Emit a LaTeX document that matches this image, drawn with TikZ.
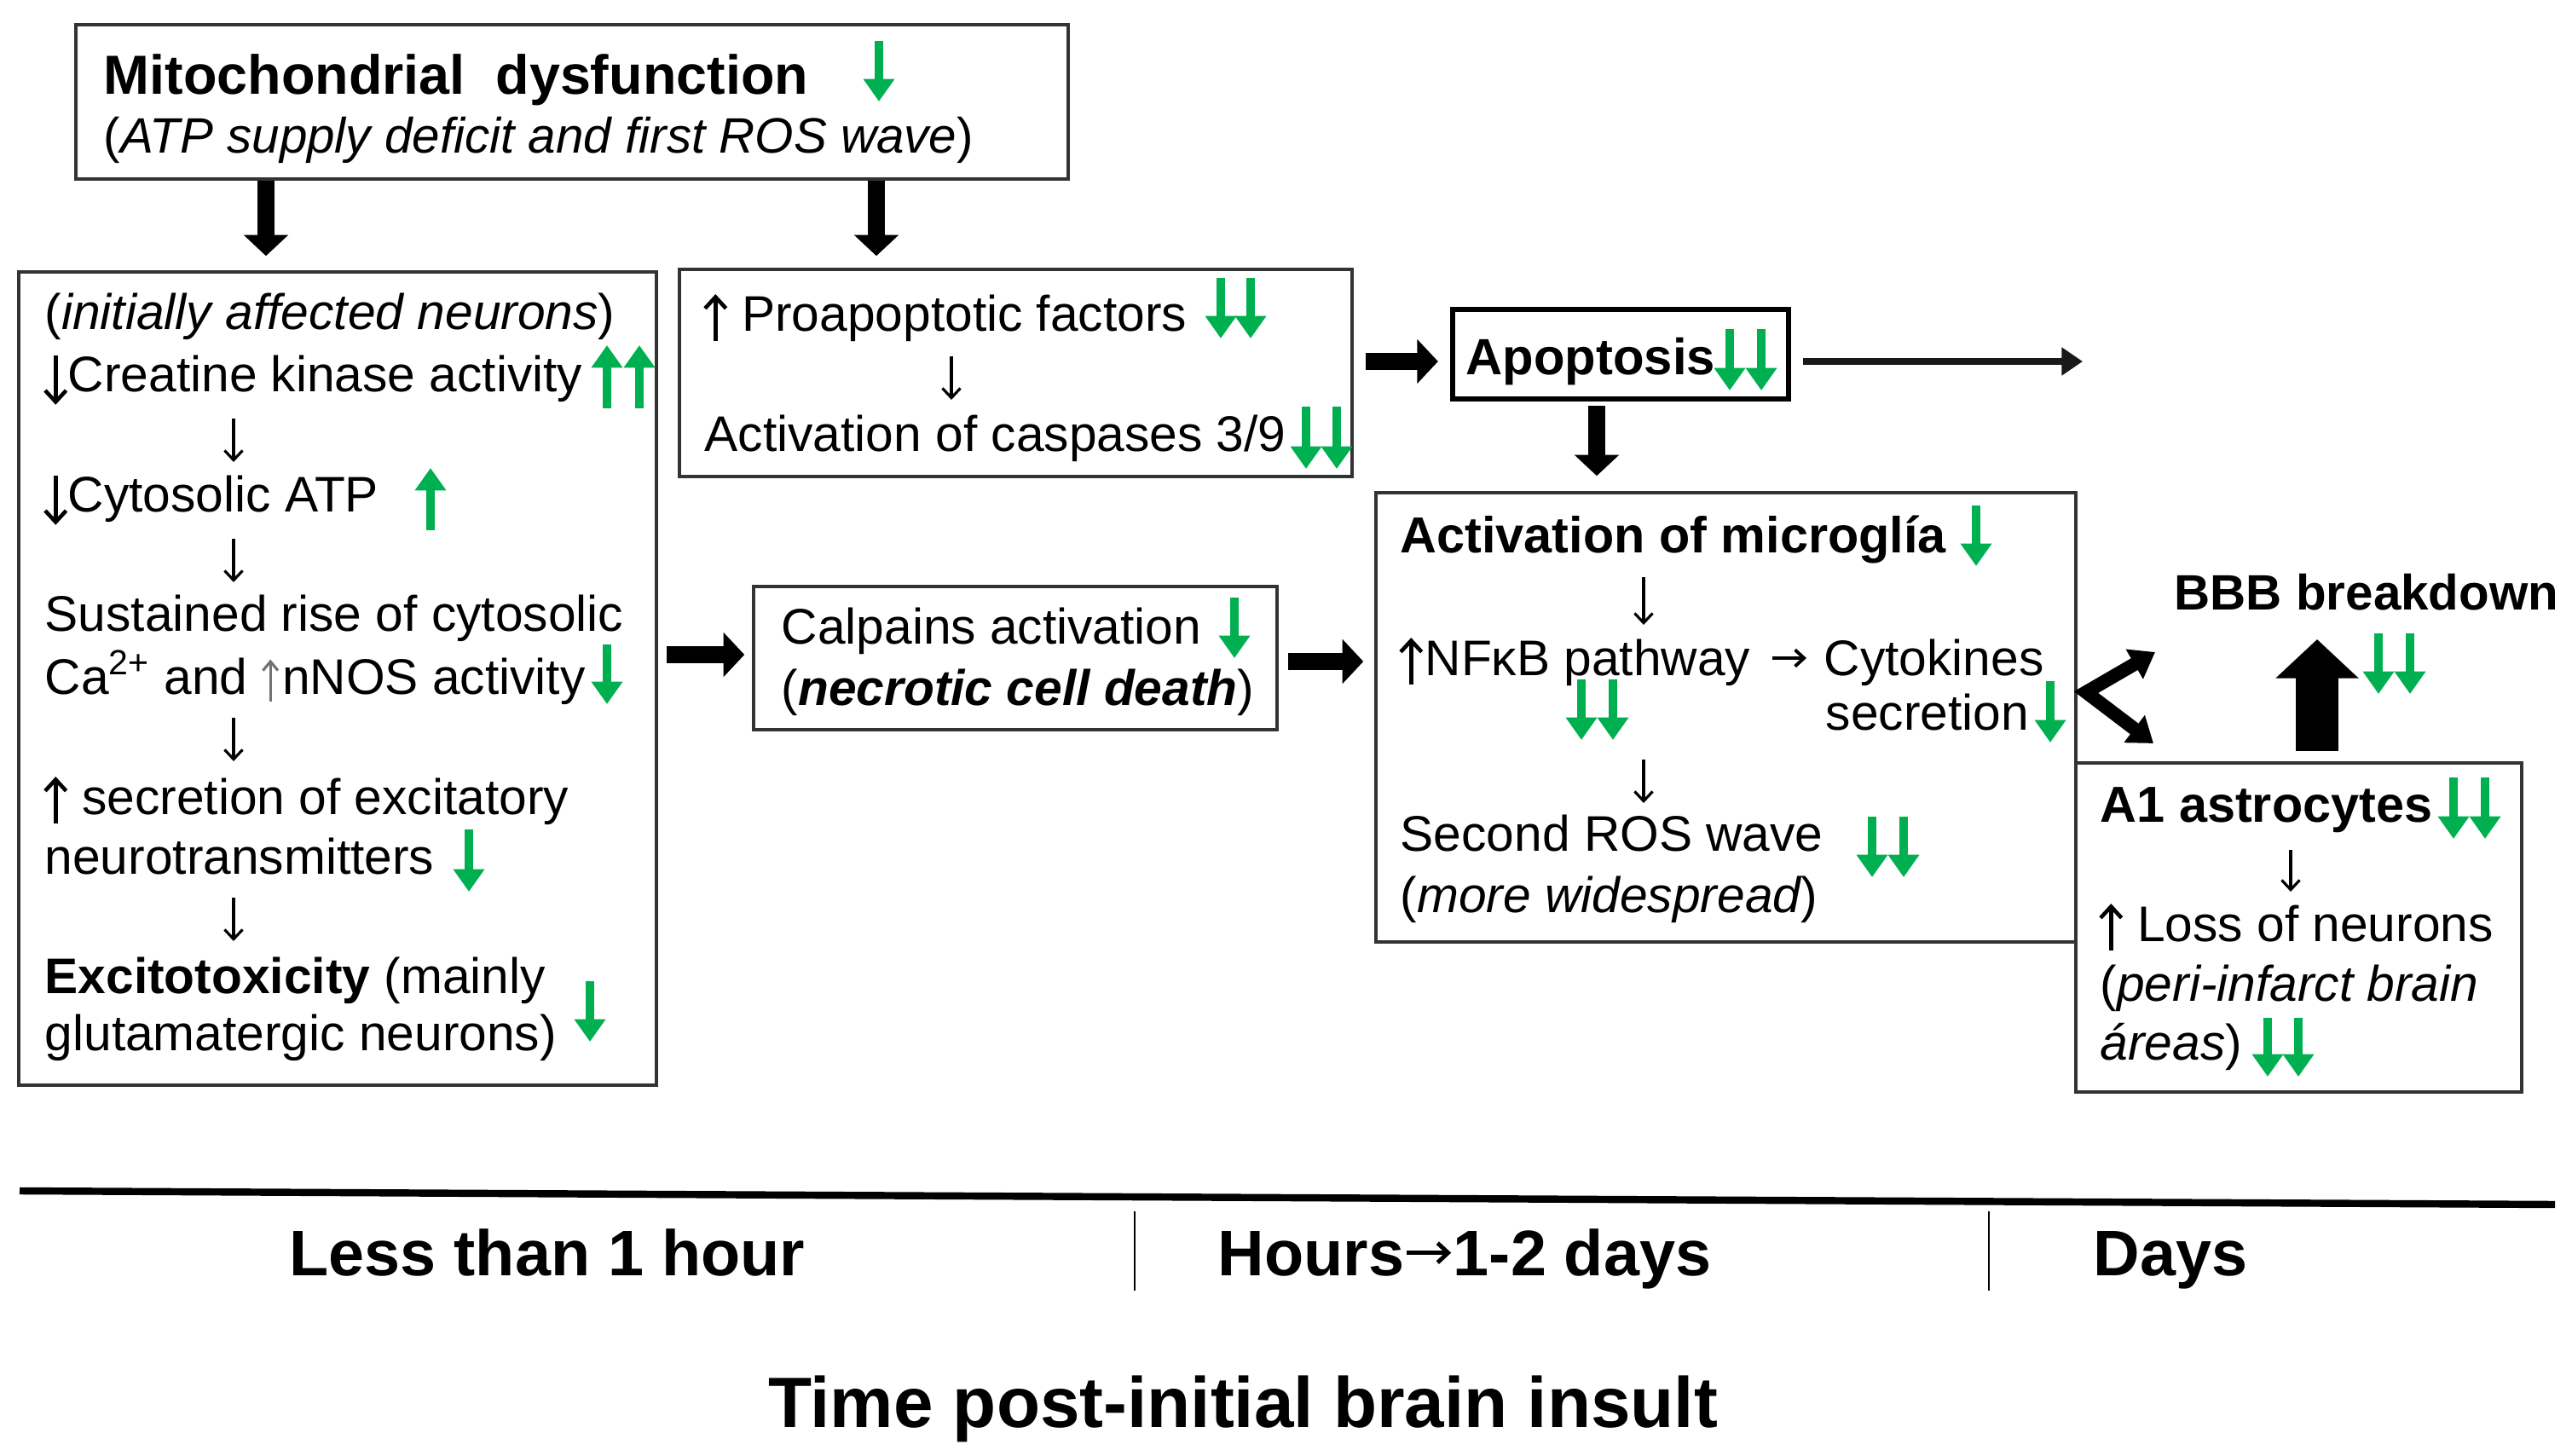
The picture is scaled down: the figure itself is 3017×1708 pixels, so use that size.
\documentclass[tikz,border=0pt]{standalone}
\usepackage{fontspec}
\setmainfont{Liberation Sans}
\usetikzlibrary{arrows.meta,fit,calc}
\definecolor{grn}{RGB}{0,176,80}
\newcommand\setfs[1]{\fontsize{#1}{#1}\selectfont}
\newcommand\dnA{\tikz[baseline=0pt]\draw[black, line width=1.3pt,-{Straight Barb[length=3.8pt,width=7pt,line width=1.3pt]}] (0pt,12.3pt) -- (0pt,-4.2pt);}
\newcommand\upA{\tikz[baseline=0pt]\draw[black, line width=1.3pt,-{Straight Barb[length=3.8pt,width=7pt,line width=1.3pt]}] (0pt,-3pt) -- (0pt,12.5pt);}
\newcommand\upG{\tikz[baseline=0pt]\draw[black!55, line width=0.9pt,-{Straight Barb[length=3pt,width=5pt,line width=0.9pt]}] (0pt,-2.5pt) -- (0pt,11.5pt);}
\newcommand\rtA{\tikz[baseline=0pt]\draw[black, line width=1.4pt,-{Straight Barb[length=3.5pt,width=6.5pt,line width=1.4pt]}] (0pt,7.5pt) -- (15pt,7.5pt);}
\begin{document}
\begin{tikzpicture}[x=0.1mm, y=-0.1mm,
  box/.style={draw=black!80, line width=1pt, inner sep=0pt},
  txt/.style={anchor=base west, inner sep=0pt, font=\setfs{16.7}},
  btxt/.style={anchor=base west, inner sep=0pt, font=\bfseries\setfs{16.9}},
  smallv/.style={draw=black, line width=0.9pt, -{Straight Barb[length=3.2pt,width=6pt,line width=0.9pt]}},
  garrow/.style={draw=grn, line width=2.8pt, -{Triangle[width=10pt,length=7.5pt]}},
  blk/.style={draw=black, line width=5.7pt, -{Triangle[width=14.5pt,length=7pt]}},
  thinarr/.style={draw=black!90, line width=2.2pt, -{Triangle[width=9pt,length=7pt]}},
  chev/.style={draw=black, line width=4.5pt, line join=miter, {Triangle[width=11pt,length=8pt]}-{Triangle[width=11pt,length=8pt]}},
  bigup/.style={draw=black, line width=14pt, -{Triangle[width=27pt,length=13pt]}},
  tl/.style={anchor=base, inner sep=0pt, font=\bfseries\setfs{21.5}}
]
\fill[white] (0,0) rectangle (3017,1708);
\useasboundingbox (0,0) rectangle (3017,1708);

% ---------- boxes ----------
\node[box, fit={(89,29) (1253,210)}] (title) {};
\node[box, fit={(22,319) (770,1273)}] (left) {};
\node[box, fit={(797,316) (1586,559)}] (pro) {};
\node[box, draw=black, line width=1.8pt, fit={(1704,363) (2098,468)}] (apo) {};
\node[box, fit={(884,688) (1498,856)}] (cal) {};
\node[box, fit={(1614,578) (2435,1105)}] (mic) {};
\node[box, fit={(2435,895) (2958,1281)}] (a1) {};

% ---------- title box ----------
\node[anchor=base west, inner sep=0pt, font=\bfseries\setfs{18.4}] (t1) at (121,111) {Mitochondrial\ \ dysfunction};
\node[anchor=base west, inner sep=0pt, font=\setfs{16.6}] (t2) at (121,180) {({\itshape ATP supply deficit and first ROS wave})};
\draw[garrow] (1031,48) -- (1031,119);

% ---------- left box ----------
\node[txt] (l1) at (52,387) {({\itshape initially affected neurons})};
\node[txt] (l2) at (50,460) {\dnA Creatine kinase activity};
\node[txt] (l3) at (50,601) {\dnA Cytosolic ATP};
\node[txt] (l4) at (52,741) {Sustained rise of cytosolic};
\node[txt] (l5) at (52,814) {Ca\textsuperscript{2+} and \upG\kern1pt nNOS activity};
\node[txt] (l6) at (50,955) {\upA\ secretion of excitatory};
\node[txt] (l7) at (52,1025) {neurotransmitters};
\node[txt] (l8) at (52,1165) {\textbf{Excitotoxicity} (mainly};
\node[txt] (l9) at (52,1232) {glutamatergic neurons)};
\coordinate (lx) at (274,0);
\draw[smallv] (274,491) -- (274,542);
\draw[smallv] (274,632) -- (274,683);
\draw[smallv] (274,842) -- (274,893);
\draw[smallv] (274,1053) -- (274,1104);
\draw[garrow] (712,479) -- (712,405);
\draw[garrow] (750,479) -- (750,405);
\draw[garrow] (505,622) -- (505,549);
\draw[garrow] (712,756) -- (712,826);
\draw[garrow] (550,973) -- (550,1046);
\draw[garrow] (692,1151) -- (692,1222);

% ---------- proapoptotic box ----------
\node[txt] (p1) at (824,389) {\upA\ Proapoptotic factors};
\draw[smallv] (1116,418) -- (1116,469);
\node[txt] (p2) at (826,530) {Activation of caspases 3/9};
\draw[garrow] (1432,326) -- (1432,397);
\draw[garrow] (1467,326) -- (1467,397);
\draw[garrow] (1532,477) -- (1532,550);
\draw[garrow] (1568,477) -- (1568,550);

% ---------- calpains box ----------
\node[txt] (c1) at (916,755) {Calpains activation};
\node[txt] (c2) at (916,827) {(\textbf{\textit{necrotic cell death}})};
\draw[garrow] (1448,701) -- (1448,772);

% ---------- apoptosis ----------
\node[anchor=base west, inner sep=0pt, font=\bfseries\setfs{17}] (ap) at (1719,440) {Apoptosis};
\draw[garrow] (2029,386) -- (2029,458);
\draw[garrow] (2066,386) -- (2066,458);

% ---------- microglia box ----------
\node[btxt] (m1) at (1642,649) {Activation of microglía};
\draw[smallv] (1928,677) -- (1928,733);
\node[txt] (m2) at (1640,792) {\upA\kern0.5pt NFκB pathway};
\node[txt] (m3) at (2139,792) {Cytokines};
\draw[draw=black, line width=1.1pt, -{Straight Barb[length=3pt,width=5.5pt,line width=1.1pt]}] ($(m2.base east)+(25,-20)$) -- ($(m3.base west)+(-20,-20)$);
\node[txt] (m4) at (2141,856) {secretion};
\draw[smallv] (1928,891) -- (1928,942);
\node[txt] (m5) at (1642,998) {Second ROS wave};
\node[txt] (m6) at (1642,1070) {({\itshape more widespread})};
\draw[garrow] (2318,593) -- (2318,664);
\draw[garrow] (1855,797) -- (1855,868);
\draw[garrow] (1892,797) -- (1892,868);
\draw[garrow] (2405,799) -- (2405,871);
\draw[garrow] (2196,958) -- (2196,1029);
\draw[garrow] (2233,958) -- (2233,1029);

% ---------- A1 astrocytes box ----------
\node[btxt] (a1t) at (2463,964) {A1 astrocytes};
\draw[smallv] (2687,997) -- (2687,1046);
\node[txt] (a2) at (2461,1104) {\upA\ Loss of neurons};
\node[txt] (a3) at (2463,1174) {({\itshape peri-infarct brain}};
\node[txt] (a4) at (2463,1243) {{\itshape áreas})};
\draw[garrow] (2878,912) -- (2878,984);
\draw[garrow] (2915,912) -- (2915,984);
\draw[garrow] (2660,1194) -- (2660,1263);
\draw[garrow] (2696,1194) -- (2696,1263);

% ---------- BBB ----------
\node[anchor=base west, inner sep=0pt, font=\bfseries\setfs{16.6}] (bbb) at (2550,716) {BBB breakdown};
\draw[garrow] (2790,743) -- (2790,814);
\draw[garrow] (2827,743) -- (2827,814);

% ---------- block arrows ----------
\coordinate (xa) at (312,0);
\draw[blk, shorten >=1.7mm] (xa |- title.south) -- (xa |- left.north);
\coordinate (xb) at (1028,0);
\draw[blk, shorten >=1.4mm] (xb |- title.south) -- (xb |- pro.north);
\coordinate (ya) at (0,424);
\draw[blk, shorten <=1.4mm, shorten >=1.4mm] (ya -| pro.east) -- (ya -| apo.west);
\coordinate (xc) at (1873,0);
\draw[blk, shorten <=0.5mm, shorten >=1.8mm] (xc |- apo.south) -- (xc |- mic.north);
\coordinate (yb) at (0,768);
\draw[blk, shorten <=1mm, shorten >=0.9mm] (yb -| left.east) -- (yb -| cal.west);
\coordinate (yc) at (0,776);
\draw[blk, shorten <=1.1mm, shorten >=1.3mm] (yc -| cal.east) -- (yc -| mic.west);
\coordinate (apoend) at (2443,424);
\draw[thinarr, shorten <=1.4mm] (ya -| apo.east) -- (apoend);
\coordinate (ch1) at (2526,872);
\coordinate (chv) at (2447,812);
\coordinate (ch2) at (2528,765);
\draw[chev] (ch1) -- (chv) -- (ch2);
\coordinate (xd) at (2718,0);
\coordinate (bbbtip) at (2718,750);
\draw[bigup, shorten <=1.2mm] (xd |- a1.north) -- (bbbtip);

% ---------- timeline ----------
\coordinate (tla) at (23,1397);
\coordinate (tlb) at (2997,1413);
\draw[line width=2.4pt] (tla) -- (tlb);
\draw[line width=0.8pt] (1331,1421) -- (1331,1514);
\draw[line width=0.8pt] (2333,1421) -- (2333,1514);
\node[tl] (tl1) at (642,1496) {Less than 1 hour};
\node[tl] (tl2) at (1718,1496) {Hours\rtA 1-2 days};
\node[tl] (tl3) at (2546,1496) {Days};
\node[anchor=base, inner sep=0pt, font=\bfseries\setfs{23.8}] (cap) at (1458,1674) {Time post-initial brain insult};
\end{tikzpicture}
\end{document}
